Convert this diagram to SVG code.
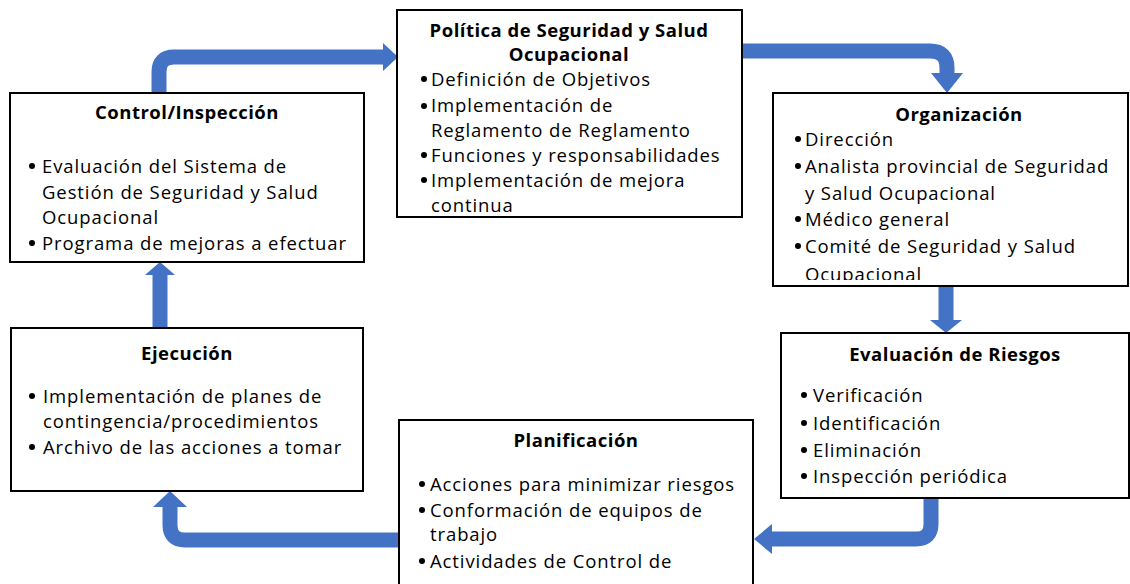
<svg xmlns="http://www.w3.org/2000/svg" width="1130" height="584" viewBox="0 0 1130 584">
<style>
.box{fill:#fff;stroke:#000;stroke-width:2}
.t{font-family:"Open Sans","Liberation Sans",sans-serif;font-size:18.5px;letter-spacing:0.9px;fill:#000}
.b{font-weight:bold;text-anchor:middle;letter-spacing:0.5px}
.shaft{fill:none;stroke:#4472C4;stroke-width:15}
.head{fill:#4472C4}
</style>
<defs>
<clipPath id="cOrg"><rect x="773" y="93" width="355" height="187"/></clipPath>
<clipPath id="cPlan"><rect x="399" y="420" width="354" height="164"/></clipPath>
</defs>
<g id="connectors">
<path class="shaft" d="M159,93 V72 Q159,57 174,57 H384"/>
<polygon class="head" points="383,43 398,57 383,71"/>
<path class="shaft" d="M742,51 H930 Q947,51 947,68 V74"/>
<polygon class="head" points="931,73 963,73 947,93"/>
<path class="shaft" d="M946,286 V321"/>
<polygon class="head" points="930,320 962,320 946,333"/>
<path class="shaft" d="M931,498 V524 Q931,539 916,539 H771"/>
<polygon class="head" points="772,524 754,539 772,554"/>
<path class="shaft" d="M399,540 H185 Q170,540 170,525 V506"/>
<polygon class="head" points="153,507 187,507 170,491"/>
<path class="shaft" d="M160,328 V274"/>
<polygon class="head" points="145,275 175,275 160,262"/>
</g>
<g id="control">
<rect class="box" x="10" y="93" width="354" height="169"/>
<text class="t b" x="187" y="119">Control/Inspección</text>
<circle cx="32" cy="166" r="3"/>
<text class="t" x="42" y="173">Evaluación del Sistema de</text>
<text class="t" x="42" y="199">Gestión de Seguridad y Salud</text>
<text class="t" x="42" y="224">Ocupacional</text>
<circle cx="32" cy="243" r="3"/>
<text class="t" x="42" y="250">Programa de mejoras a efectuar</text>
</g>
<g id="politica">
<rect class="box" x="397" y="10" width="345" height="207"/>
<text class="t b" x="569" y="37">Política de Seguridad y Salud</text>
<text class="t b" x="569" y="61">Ocupacional</text>
<circle cx="424" cy="79" r="3"/>
<text class="t" x="431" y="86">Definición de Objetivos</text>
<circle cx="424" cy="106" r="3"/>
<text class="t" x="431" y="112">Implementación de</text>
<text class="t" x="431" y="137">Reglamento de Reglamento</text>
<circle cx="424" cy="155" r="3"/>
<text class="t" x="431" y="162">Funciones y responsabilidades</text>
<circle cx="424" cy="180" r="3"/>
<text class="t" x="431" y="187">Implementación de mejora</text>
<text class="t" x="431" y="212">continua</text>
</g>
<g id="organizacion">
<rect class="box" x="773" y="93" width="355" height="193"/>
<g clip-path="url(#cOrg)">
<text class="t b" x="959" y="121">Organización</text>
<circle cx="798" cy="139" r="3"/>
<text class="t" x="805" y="146">Dirección</text>
<circle cx="798" cy="166" r="3"/>
<text class="t" x="805" y="173">Analista provincial de Seguridad</text>
<text class="t" x="805" y="200">y Salud Ocupacional</text>
<circle cx="798" cy="219" r="3"/>
<text class="t" x="805" y="226">Médico general</text>
<circle cx="798" cy="246" r="3"/>
<text class="t" x="805" y="253">Comité de Seguridad y Salud</text>
<text class="t" x="805" y="281">Ocupacional</text>
</g>
</g>
<g id="evaluacion">
<rect class="box" x="781" y="333" width="348" height="165"/>
<text class="t b" x="955" y="361">Evaluación de Riesgos</text>
<circle cx="804" cy="395" r="3"/>
<text class="t" x="813" y="402">Verificación</text>
<circle cx="804" cy="423" r="3"/>
<text class="t" x="813" y="430">Identificación</text>
<circle cx="804" cy="450" r="3"/>
<text class="t" x="813" y="457">Eliminación</text>
<circle cx="804" cy="476" r="3"/>
<text class="t" x="813" y="483">Inspección periódica</text>
</g>
<g id="planificacion">
<rect class="box" x="399" y="420" width="354" height="170"/>
<g clip-path="url(#cPlan)">
<text class="t b" x="576" y="447">Planificación</text>
<circle cx="422" cy="484" r="3"/>
<text class="t" x="430" y="491">Acciones para minimizar riesgos</text>
<circle cx="422" cy="510" r="3"/>
<text class="t" x="430" y="517">Conformación de equipos de</text>
<text class="t" x="430" y="541">trabajo</text>
<circle cx="422" cy="561" r="3"/>
<text class="t" x="430" y="568">Actividades de Control de</text>
</g>
</g>
<g id="ejecucion">
<rect class="box" x="11" y="328" width="352" height="163"/>
<text class="t b" x="187" y="360">Ejecución</text>
<circle cx="32" cy="396" r="3"/>
<text class="t" x="43" y="403">Implementación de planes de</text>
<text class="t" x="43" y="428">contingencia/procedimientos</text>
<circle cx="32" cy="447" r="3"/>
<text class="t" x="43" y="454">Archivo de las acciones a tomar</text>
</g>
</svg>
